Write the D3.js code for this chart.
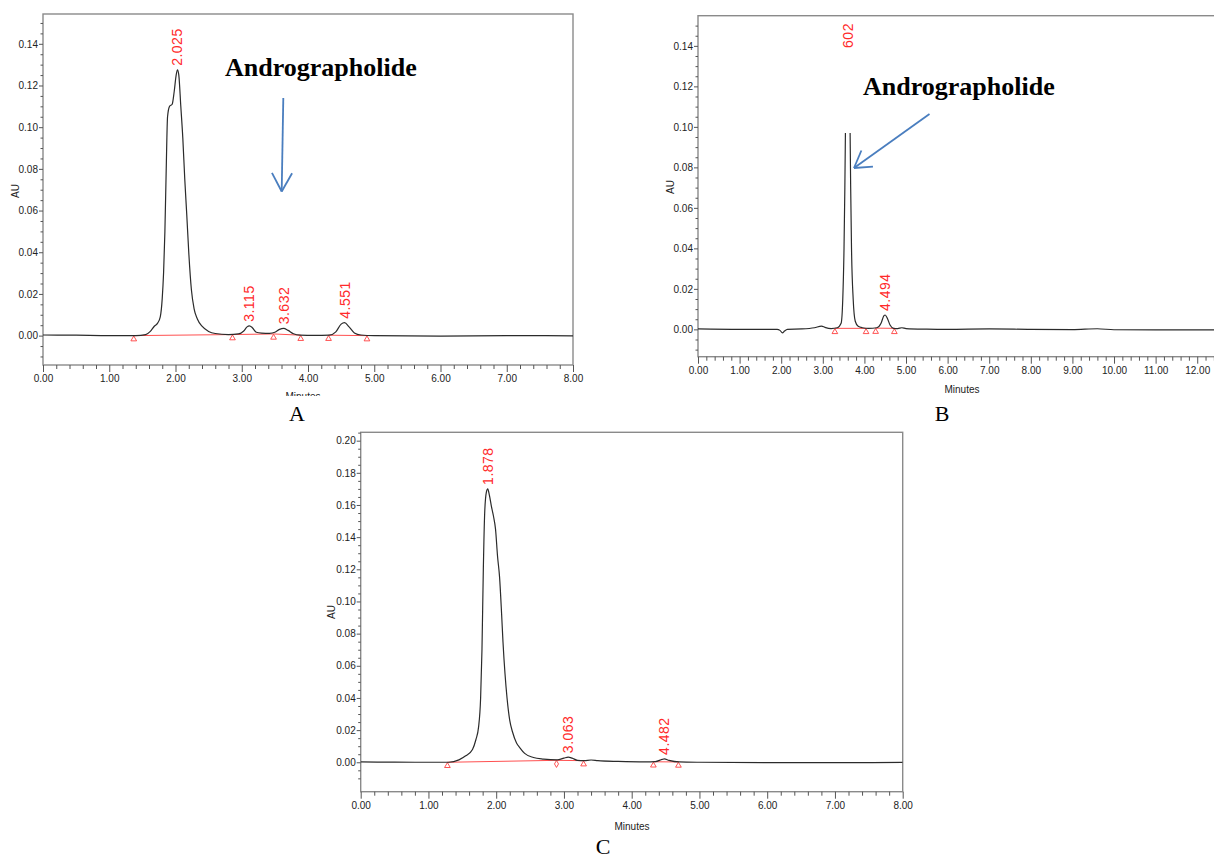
<!DOCTYPE html>
<html><head><meta charset="utf-8">
<script src="https://cdn.jsdelivr.net/npm/d3@7/dist/d3.min.js"></script>
<style>
html,body{margin:0;padding:0;background:#fff;}
svg{display:block;}
.tick text{font-family:"Liberation Sans Narrow","Arial Narrow","Liberation Sans",Arial,sans-serif;font-size:10px;fill:#222;}
.tick line{stroke:#555;stroke-width:1;}
</style></head>
<body>
<svg id="chart" width="1214" height="859"></svg>
<script>
// ---------- DATA ----------
const xTicksA = [0,1,2,3,4,5,6,7,8];
const xTicksB = [0,1,2,3,4,5,6,7,8,9,10,11,12];
const xTicksC = [0,1,2,3,4,5,6,7,8];
const yTicksA = [0,0.02,0.04,0.06,0.08,0.10,0.12,0.14];
const yTicksB = [0,0.02,0.04,0.06,0.08,0.10,0.12,0.14];
const yTicksC = [0,0.02,0.04,0.06,0.08,0.10,0.12,0.14,0.16,0.18,0.20];

// chromatogram A: [minutes, AU]
const traceA = [
 [0,0.0003],[0.5,0.0002],[1.0,0.0],[1.4,0.0],[1.55,0.0005],[1.62,0.002],[1.68,0.0045],[1.73,0.006],
 [1.77,0.009],[1.8,0.018],[1.82,0.03],[1.84,0.05],[1.86,0.08],[1.88,0.105],[1.91,0.110],[1.95,0.111],
 [1.98,0.117],[2.01,0.125],[2.03,0.1275],[2.05,0.125],[2.08,0.11],[2.11,0.095],[2.14,0.075],[2.17,0.058],
 [2.2,0.04],[2.24,0.022],[2.28,0.013],[2.33,0.008],[2.4,0.0045],[2.5,0.002],[2.6,0.001],[2.8,0.0005],
 [2.95,0.0008],[3.03,0.0022],[3.08,0.0042],[3.115,0.0047],[3.16,0.0038],[3.22,0.0016],[3.3,0.0012],
 [3.42,0.0011],[3.5,0.0016],[3.57,0.003],[3.632,0.0035],[3.7,0.0025],[3.78,0.0009],[3.88,0.0002],
 [4.1,0.0001],[4.32,0.0002],[4.42,0.0018],[4.5,0.0055],[4.551,0.0062],[4.62,0.0042],[4.7,0.0013],
 [4.8,0.0003],[5.0,0.0],[6.0,-0.0002],[7.0,0.0],[8.0,-0.0001]
];
// chromatogram B
const traceB = [
 [0,0.0002],[1.0,0.0],[1.5,0.0],[1.9,0.0],[1.97,-0.0005],[2.03,-0.0017],[2.08,-0.0008],[2.15,0.0],
 [2.5,0.0002],[2.8,0.0008],[2.97,0.0016],[3.05,0.001],[3.2,0.0004],[3.35,0.0008],[3.44,0.003],
 [3.48,0.015],[3.51,0.04],[3.53,0.07],[3.545,0.1],[3.56,0.13],[3.6,0.15],[3.64,0.13],[3.655,0.1],
 [3.67,0.07],[3.69,0.04],[3.73,0.015],[3.78,0.004],[3.85,0.0015],[3.95,0.0008],[4.1,0.0005],
 [4.3,0.0008],[4.4,0.003],[4.47,0.0068],[4.5,0.0071],[4.55,0.0055],[4.62,0.002],[4.7,0.0005],
 [4.8,0.0004],[4.9,0.0008],[5.0,0.0004],[5.5,0.0001],[6.0,0.0],[7.0,0.0002],[8.0,0.0],[9.0,-0.0001],
 [9.6,0.0003],[10.0,-0.0002],[11.0,-0.0003],[12.0,-0.0003],[12.8,-0.0003]
];
const clipTopB = 0.097;   // trace B is cut off above this AU value
// chromatogram C
const traceC = [
 [0,0.0002],[0.5,0.0001],[1.0,0.0],[1.3,0.0],[1.45,0.0015],[1.55,0.004],[1.65,0.008],[1.7,0.014],
 [1.74,0.022],[1.77,0.04],[1.79,0.07],[1.81,0.12],[1.83,0.155],[1.855,0.168],[1.875,0.170],[1.9,0.166],
 [1.93,0.159],[1.96,0.153],[1.99,0.145],[2.02,0.128],[2.05,0.115],[2.08,0.092],[2.1,0.075],[2.13,0.055],
 [2.16,0.04],[2.2,0.026],[2.24,0.019],[2.3,0.012],[2.35,0.009],[2.42,0.0055],[2.55,0.003],[2.7,0.002],
 [2.9,0.0015],[3.0,0.0026],[3.063,0.0032],[3.12,0.0026],[3.2,0.0012],[3.3,0.001],[3.4,0.0014],
 [3.5,0.001],[3.8,0.0005],[4.2,0.0002],[4.35,0.0004],[4.45,0.0018],[4.482,0.0021],[4.55,0.0012],
 [4.7,0.0002],[5.0,0.0],[6.0,-0.0002],[7.0,-0.0002],[8.0,-0.0001]
];

// integration baselines (pairs of [minutes, AU])
const baselinesA = [[[1.37,0.0],[2.86,0.0005]],[[2.86,0.0005],[3.48,0.0008]],[[3.48,0.0008],[3.89,0.0002]],[[4.31,0.0002],[4.89,0.0]]];
const baselinesB = [[[3.29,0.0005],[4.04,0.0005]],[[4.27,0.0006],[4.72,0.0005]]];
const baselinesC = [[[1.28,0.0],[2.89,0.0012]],[[2.89,0.0012],[3.29,0.001]],[[4.32,0.0003],[4.69,0.0002]]];
const markersA = [1.37,2.86,3.48,3.89,4.31,4.89];
const markersB = [3.29,4.04,4.27,4.72];
const markersC = [1.28,2.89,3.29,4.32,4.69];

// peak retention-time labels
const peaksA = [{t:2.025,au:0.1275,label:"2.025"},{t:3.115,au:0.0047,label:"3.115"},{t:3.632,au:0.0035,label:"3.632"},{t:4.551,au:0.0062,label:"4.551"}];
const peaksB = [{t:3.602,au:0.137,label:"602"},{t:4.494,au:0.0071,label:"4.494"}];
const peaksC = [{t:1.878,au:0.170,label:"1.878"},{t:3.063,au:0.0032,label:"3.063"},{t:4.482,au:0.0021,label:"4.482"}];

// ---------- DRAWING ----------
const svg = d3.select("#chart");
svg.append("rect").attr("width",1214).attr("height",859).attr("fill","#fff");
const fmt = d3.format(".2f");

function range(a,b,s){const r=[];for(let v=a;v<=b+1e-9;v+=s)r.push(+v.toFixed(4));return r;}

function drawPanel(o){
  const g = svg.append("g");
  const x = d3.scaleLinear().domain(o.xDomain).range(o.xRange);
  const y = d3.scaleLinear().domain(o.yDomain).range(o.yRange);
  const id = o.id;
  const x0=o.xRange[0], x1=o.xRange[1], yb=o.yRange[0], yt=o.yRange[1];

  // frame
  g.append("rect").attr("x",x0).attr("y",yt).attr("width",x1-x0).attr("height",yb-yt)
    .attr("fill","none").attr("stroke","#8a8a8a").attr("stroke-width",1.4);

  // x axis minor + major
  const xMinor = range(o.xDomain[0], o.xDomain[1], 0.2).filter(v=>Math.abs(v-Math.round(v))>1e-6);
  g.append("g").attr("transform",`translate(0,${yb})`)
    .call(d3.axisBottom(x).tickValues(xMinor).tickSize(4).tickFormat(""))
    .call(s=>s.select(".domain").remove());
  g.append("g").attr("transform",`translate(0,${yb})`)
    .call(d3.axisBottom(x).tickValues(o.xTicks).tickSize(7).tickPadding(3).tickFormat(fmt))
    .call(s=>s.select(".domain").remove());

  // y axis minor + major
  const yMinor = range(-0.01, o.yDomain[1], 0.005).filter(v=>v>=o.yDomain[0] && Math.abs(v/0.02-Math.round(v/0.02))>1e-6);
  g.append("g").attr("transform",`translate(${x0},0)`)
    .call(d3.axisLeft(y).tickValues(yMinor).tickSize(2.5).tickFormat(""))
    .call(s=>s.select(".domain").remove());
  g.append("g").attr("transform",`translate(${x0},0)`)
    .call(d3.axisLeft(y).tickValues(o.yTicks).tickSize(4).tickPadding(1).tickFormat(fmt))
    .call(s=>s.select(".domain").remove());

  // AU label
  g.append("text").attr("transform",`translate(${o.auPos[0]},${o.auPos[1]}) rotate(-90)`)
    .attr("text-anchor","middle")
    .style("font-family",'"Liberation Sans Narrow","Arial Narrow","Liberation Sans",Arial,sans-serif')
    .style("font-size","10px").attr("fill","#222").text("AU");

  // Minutes label
  if(o.minPos){
    const mt = g.append("text").attr("x",o.minPos[0]).attr("y",o.minPos[1]).attr("text-anchor","middle")
      .style("font-family",'"Liberation Sans Narrow","Arial Narrow","Liberation Sans",Arial,sans-serif')
      .style("font-size","10px").attr("fill","#222").text("Minutes");
    if(o.minClip){
      svg.append("clipPath").attr("id","mc"+id).append("rect")
        .attr("x",0).attr("y",0).attr("width",1214).attr("height",o.minClip);
      mt.attr("clip-path",`url(#mc${id})`);
    }
  }

  // clip for trace
  const clipY = o.clipTop!==undefined ? y(o.clipTop) : yt;
  svg.append("clipPath").attr("id","cp"+id).append("rect")
    .attr("x",x0).attr("y",clipY).attr("width",x1-x0).attr("height",yb-clipY);

  // integration baselines
  g.selectAll(".bl").data(o.baselines).join("line")
    .attr("x1",d=>x(d[0][0])).attr("y1",d=>y(d[0][1]))
    .attr("x2",d=>x(d[1][0])).attr("y2",d=>y(d[1][1]))
    .attr("stroke","#ff5050").attr("stroke-width",1);

  // markers
  const bv = t=>{
    for(const s of o.baselines){ if(Math.abs(s[0][0]-t)<1e-6) return s[0][1]; if(Math.abs(s[1][0]-t)<1e-6) return s[1][1]; }
    return 0;
  };
  g.selectAll(".mk").data(o.markers).join("path")
    .attr("d",d=> (o.diamond && Math.abs(d-o.diamond)<1e-6) ? d3.symbol(d3.symbolDiamond,14)() : d3.symbol(d3.symbolTriangle,14)())
    .attr("transform",d=>`translate(${x(d)},${y(bv(d))+3.6})`)
    .attr("fill","none").attr("stroke","#ff4040").attr("stroke-width",0.9);

  // trace
  const line = d3.line().x(d=>x(d[0])).y(d=>y(d[1])).curve(d3.curveMonotoneX);
  g.append("path").datum(o.trace).attr("d",line).attr("fill","none")
    .attr("stroke","#2b2b2b").attr("stroke-width",1.2).attr("clip-path",`url(#cp${id})`);

  // peak labels
  g.selectAll(".pk").data(o.peaks).join("text")
    .attr("transform",d=>`translate(${x(d.t)},${y(d.au)-4}) rotate(-90)`)
    .attr("dy","0.36em").attr("text-anchor","start")
    .style("font-family","'Liberation Sans',Arial,sans-serif").style("font-size","14px")
    .style("letter-spacing","0.5px").attr("fill","#ff2a2a").text(d=>d.label);
  return {x,y};
}

drawPanel({id:"A", xDomain:[0,8], xRange:[43,573], yDomain:[-0.0141,0.1543], yRange:[365,14],
  xTicks:xTicksA, yTicks:yTicksA, trace:traceA, baselines:baselinesA, markers:markersA, peaks:peaksA,
  auPos:[18.5,191], minPos:[303,400], minClip:396});
drawPanel({id:"B", xDomain:[0,12.8], xRange:[698,1230.5], yDomain:[-0.0135,0.1549], yRange:[356.7,15.7],
  xTicks:xTicksB, yTicks:yTicksB, trace:traceB, baselines:baselinesB, markers:markersB, peaks:peaksB,
  auPos:[673.5,187], minPos:[962,393], clipTop:clipTopB});
drawPanel({id:"C", xDomain:[0,8], xRange:[360.7,902.7], yDomain:[-0.0183,0.2052], yRange:[791.7,432.3],
  xTicks:xTicksC, yTicks:yTicksC, trace:traceC, baselines:baselinesC, markers:markersC, peaks:peaksC,
  auPos:[334.5,612], minPos:[632,830], diamond:2.89});

// annotations
const serif = "'Liberation Serif','Times New Roman',serif";
const blue = "#4a7ebf";
function note(xp,yp,txt){
  svg.append("text").attr("x",xp).attr("y",yp).style("font-family",serif).style("font-size","26px")
    .style("font-weight","bold").attr("fill","#000").text(txt);
}
note(225,76,"Andrographolide");
note(863,95,"Andrographolide");
function arrow(x1,y1,x2,y2,len,ang){
  const g=svg.append("g").attr("stroke",blue).attr("stroke-width",1.8).attr("fill","none");
  g.append("line").attr("x1",x1).attr("y1",y1).attr("x2",x2).attr("y2",y2);
  const a=Math.atan2(y1-y2,x1-x2);
  [ang,-ang].forEach(s=>{
    g.append("line").attr("x1",x2).attr("y1",y2)
      .attr("x2",x2+len*Math.cos(a+s)).attr("y2",y2+len*Math.sin(a+s));
  });
}
arrow(283.3,98,281.7,191.5,21,0.5);
arrow(929.5,114,854,168,19,0.55);

// panel letters
[["A",297,421],["B",942,421],["C",603,854]].forEach(d=>{
  svg.append("text").attr("x",d[1]).attr("y",d[2]).attr("text-anchor","middle")
    .style("font-family",serif).style("font-size","22px").attr("fill","#000").text(d[0]);
});
</script>
</body></html>
